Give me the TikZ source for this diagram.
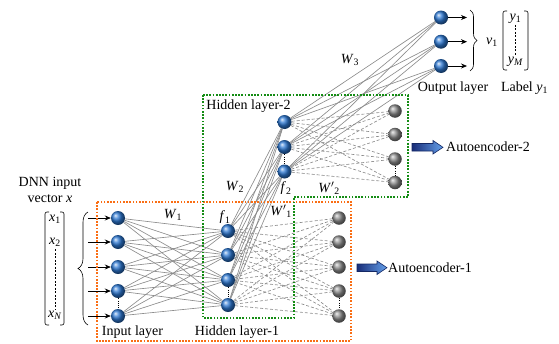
\documentclass[tikz,border=0pt]{standalone}
\usepackage{fontspec}
\setmainfont{Liberation Serif}
\usetikzlibrary{decorations.pathreplacing,arrows.meta}
\definecolor{boxorange}{RGB}{250,110,20}
\definecolor{boxgreen}{RGB}{20,140,20}
\definecolor{ballblue}{RGB}{45,120,210}
\definecolor{linegray}{RGB}{140,140,140}
\pgfdeclarelayer{bg}
\pgfsetlayers{bg,main}
\newcommand{\vi}[1]{\textit{#1}}
\begin{document}
\begin{tikzpicture}[x=1pt,y=-1pt,
  font=\fontsize{14}{16}\selectfont,
  neuron/.style={circle, inner sep=0pt, minimum size=14pt, ball color=ballblue},
  recon/.style={circle, inner sep=0pt, minimum size=13.5pt, ball color=gray!90},
  conn/.style={draw=linegray, line width=0.65pt},
  dconn/.style={draw=linegray, line width=0.65pt, dash pattern=on 3pt off 2pt},
  dotsep/.style={draw=black, line width=1pt, dash pattern=on 1pt off 1.3pt},
  inarrow/.style={draw=black, line width=0.7pt, -{Stealth[length=6pt,width=5pt]}},
  obox/.style={draw=boxorange, line width=1.7pt, dash pattern=on 1.7pt off 1.5pt},
  gbox/.style={draw=boxgreen, line width=1.7pt, dash pattern=on 1.7pt off 1.5pt},
  bracket/.style={draw=black, line width=0.6pt, rounded corners=2pt},
  blockarrow/.style={draw={rgb,255:red,20;green,40;blue,100}, line width=0.6pt,
      left color={rgb,255:red,25;green,45;blue,120}, right color={rgb,255:red,100;green,160;blue,235}},
  lbl/.style={inner sep=1pt}
]
\useasboundingbox (0,0) rectangle (559,343);

% neurons
\foreach \n/\y in {1/218,2/242,3/267,4/291,5/316} \node[neuron] (i\n) at (118,\y) {};
\foreach \n/\y in {1/231,2/255,3/280,4/305} \node[neuron] (h\n) at (228,\y) {};
\foreach \n/\y in {1/218,2/242,3/267,4/291,5/316} \node[recon] (a\n) at (339,\y) {};
\foreach \n/\y in {1/122,2/147,3/171.5} \node[neuron] (g\n) at (284.5,\y) {};
\foreach \n/\y in {1/111,2/134.5,3/159,4/182.5} \node[recon] (b\n) at (395,\y) {};
\foreach \n/\y in {1/17.5,2/41.7,3/66} \node[neuron] (o\n) at (441,\y) {};

% connections
\begin{pgfonlayer}{bg}
\foreach \a in {1,...,5} \foreach \b in {1,...,4} \draw[conn] (i\a) -- (h\b);
\foreach \a in {1,...,4} \foreach \b in {1,...,5} \draw[dconn] (h\a) -- (a\b);
\foreach \a in {1,...,4} \foreach \b in {1,...,3} \draw[conn] (h\a) -- (g\b);
\foreach \a in {1,...,3} \foreach \b in {1,...,4} \draw[dconn] (g\a) -- (b\b);
\foreach \a in {1,...,3} \foreach \b in {1,...,3} \draw[conn] (g\a) -- (o\b);
\end{pgfonlayer}

% vertical dots between neurons
\draw[dotsep] (i4) -- (i5);
\draw[dotsep] (h3) -- (h4);
\draw[dotsep] (a4) -- (a5);
\draw[dotsep] (g2) -- (g3);
\draw[dotsep] (b3) -- (b4);

% input arrows
\foreach \n/\y in {1/218,2/242,3/267,4/291,5/316} {
  \coordinate (s\n) at (88,\y);
  \draw[inarrow] (s\n) -- (i\n);
}
% output arrows
\foreach \n/\y in {1/17.5,2/41.7,3/66} {
  \coordinate (e\n) at (467,\y);
  \draw[inarrow] (o\n) -- (e\n);
}

% input vector
\node[lbl] (dnn1) at (50,183) {DNN input};
\node[lbl] (dnn2) at (50,198.5) {vector \vi{x}};
\coordinate (xbl1) at (49,212); \coordinate (xbl2) at (45,212);
\coordinate (xbl3) at (45,325); \coordinate (xbl4) at (49,325);
\draw[bracket] (xbl1) -- (xbl2) -- (xbl3) -- (xbl4);
\coordinate (xbr1) at (60,212); \coordinate (xbr2) at (64,212);
\coordinate (xbr3) at (64,325); \coordinate (xbr4) at (60,325);
\draw[bracket] (xbr1) -- (xbr2) -- (xbr3) -- (xbr4);
\node[lbl] (x1) at (55,219) {\vi{x}\textsubscript{1}};
\node[lbl] (x2) at (55,242) {\vi{x}\textsubscript{2}};
\node[lbl] (xN) at (55,315.5) {\vi{x}\textsubscript{\vi{N}}};
\draw[black, line width=0.6pt, dash pattern=on 2pt off 1.5pt] (x2.south) ++(0,2) coordinate (xd1) -- (xN.north);
% big brace
\coordinate (brb) at (88,325); \coordinate (brt) at (88,212);
\draw[black, line width=0.6pt, decorate, decoration={brace, amplitude=10pt}] (brb) -- (brt);

% output side
\coordinate (obt) at (470,10); \coordinate (obb) at (470,71);
\draw[black, line width=0.6pt, decorate, decoration={brace, amplitude=7pt}] (obt) -- (obb);
\node[lbl] (v1) at (492,42) {\vi{v}\textsubscript{1}};
\coordinate (ybl1) at (507,11); \coordinate (ybl2) at (503,11);
\coordinate (ybl3) at (503,70); \coordinate (ybl4) at (507,70);
\draw[bracket] (ybl1) -- (ybl2) -- (ybl3) -- (ybl4);
\coordinate (ybr1) at (524,11); \coordinate (ybr2) at (528,11);
\coordinate (ybr3) at (528,70); \coordinate (ybr4) at (524,70);
\draw[bracket] (ybr1) -- (ybr2) -- (ybr3) -- (ybr4);
\node[lbl] (y1) at (515.5,19) {\vi{y}\textsubscript{1}};
\node[lbl] (yM) at (515.5,62) {\vi{y}\textsubscript{\vi{M}}};
\draw[black, line width=0.6pt, dash pattern=on 2pt off 1.5pt] (y1.south) -- (yM.north);
\node[lbl] (outl) at (453,88) {Output layer};
\node[lbl] (labl) at (524.5,88) {Label \vi{y}\textsubscript{1}};

% weight labels
\node[lbl] (w1) at (173,215) {\vi{W}\textsubscript{1}};
\node[lbl] (f1) at (225,217.5) {\vi{f}\textsubscript{1}};
\node[lbl] (w1p) at (281,211) {\vi{W}$'$\textsubscript{1}};
\node[lbl] (w2) at (235,187) {\vi{W}\textsubscript{2}};
\node[lbl] (f2) at (286,188.5) {\vi{f}\textsubscript{2}};
\node[lbl] (w2p) at (329,188.5) {\vi{W}$'$\textsubscript{2}};
\node[lbl] (w3) at (350,60) {\vi{W}\textsubscript{3}};

% layer labels
\node[lbl] (inl) at (132.5,332) {Input layer};
\node[lbl] (h1l) at (237,332.5) {Hidden layer-1};
\node[lbl] (h2l) at (248.5,106.5) {Hidden layer-2};

% boxes
\draw[obox] (97,202) rectangle (351,341);
\coordinate (gb1) at (203,95); \coordinate (gb2) at (408,95);
\coordinate (gb3) at (408,197); \coordinate (gb4) at (294,197);
\coordinate (gb5) at (294,318); \coordinate (gb6) at (203,318);
\draw[gbox] (gb1) -- (gb2) -- (gb3) -- (gb4) -- (gb5) -- (gb6) -- cycle;

% autoencoder arrows
\shade[blockarrow] (412,143.5) -- (433,143.5) -- (433,140.5) -- (443,147.3) -- (433,154) -- (433,151) -- (412,151) -- cycle;
\node[lbl, anchor=west] (ae2) at (445,147) {Autoencoder-2};
\shade[blockarrow] (357,264) -- (377,264) -- (377,261) -- (387,267.7) -- (377,274.5) -- (377,271.5) -- (357,271.5) -- cycle;
\node[lbl, anchor=west] (ae1) at (387,268) {Autoencoder-1};
\end{tikzpicture}
\end{document}
